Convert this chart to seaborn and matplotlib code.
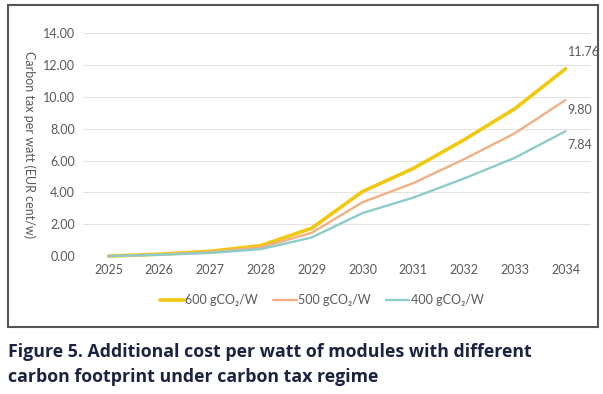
import pandas as pd
import matplotlib.pyplot as plt
import seaborn as sns
from matplotlib.patches import Rectangle

# datos
years = [2025, 2026, 2027, 2028, 2029, 2030, 2031, 2032, 2033, 2034]
tax_600 = [0.00, 0.12, 0.30, 0.66, 1.75, 4.05, 5.50, 7.30, 9.25, 11.76]
tax_500 = [0.00, 0.10, 0.25, 0.55, 1.46, 3.38, 4.58, 6.08, 7.71, 9.80]
tax_400 = [0.00, 0.08, 0.20, 0.44, 1.17, 2.70, 3.67, 4.87, 6.17, 7.84]
series = ['600 gCO₂/W', '500 gCO₂/W', '400 gCO₂/W']
end_labels = ['11.76', '9.80', '7.84']

df = pd.DataFrame({
    'Year': years * 3,
    'Tax': tax_600 + tax_500 + tax_400,
    'Serie': [series[0]] * 10 + [series[1]] * 10 + [series[2]] * 10,
})

sns.set_theme(style="white")
plt.rcParams['font.family'] = ['Lato', 'DejaVu Sans']

colores = {series[0]: '#f2c80f', series[1]: '#f0b084', series[2]: '#8dcbcb'}
grosor = {series[0]: 2.6, series[1]: 1.7, series[2]: 1.7}

fig = plt.figure(figsize=(6.03, 3.94), dpi=100)
ax = fig.add_axes([0.138, 0.350, 0.842, 0.566])

sns.lineplot(data=df, x='Year', y='Tax', hue='Serie', palette=colores, ax=ax,
             legend=False)
for line, s in zip(ax.lines, series):
    line.set_linewidth(grosor[s])
    line.set_clip_on(False)

ax.set_xlim(2024.5, 2034.5)
ax.set_ylim(0, 14)
ax.set_yticks([0, 2, 4, 6, 8, 10, 12, 14])
ax.set_yticklabels([f'{v:.2f}' for v in ax.get_yticks()])
ax.set_xticks(years)
ax.tick_params(axis='both', labelsize=9, colors='#595959', length=0, pad=6)
ax.yaxis.grid(True, color='#e3e3e3', linewidth=0.8)
for sp in ax.spines.values():
    sp.set_visible(False)
ax.set_xlabel('')
ax.set_ylabel('Carbon tax per watt (EUR cent/w)', rotation=270, fontsize=9,
              color='#595959', labelpad=4)
ax.yaxis.set_label_coords(-0.118, 0.5)

# etiquetas al final de cada serie
offsets = [1.07, -0.62, -0.86]
for vals, txt, off in zip([tax_600, tax_500, tax_400], end_labels, offsets):
    ax.text(years[-1] + 0.04, vals[-1] + off, txt, fontsize=9, color='#595959',
            ha='left', va='center', clip_on=False)

# leyenda
handles = [plt.Line2D([], [], color=colores[s], lw=grosor[s]) for s in series]
ax.legend(handles, series, loc='upper center', bbox_to_anchor=(0.47, -0.12),
          ncol=3, frameon=False, fontsize=9, handlelength=1.9, handletextpad=0.1,
          columnspacing=1.2, labelcolor='#595959')

# marco
fig.patches.append(Rectangle((8 / 603, 1 - 327 / 394), 590 / 603, 322 / 394,
                             transform=fig.transFigure, fill=False,
                             edgecolor='#555555', linewidth=1.5))

# pie de figura
fig.text(8 / 603, 1 - 352 / 394,
         'Figure 5. Additional cost per watt of modules with different',
         fontsize=12.8, fontweight='bold', color='#1c2340', va='center',
         family=['Open Sans', 'DejaVu Sans'])
fig.text(8 / 603, 1 - 377 / 394,
         'carbon footprint under carbon tax regime',
         fontsize=12.8, fontweight='bold', color='#1c2340', va='center',
         family=['Open Sans', 'DejaVu Sans'])

plt.savefig('out.png', dpi=100)
